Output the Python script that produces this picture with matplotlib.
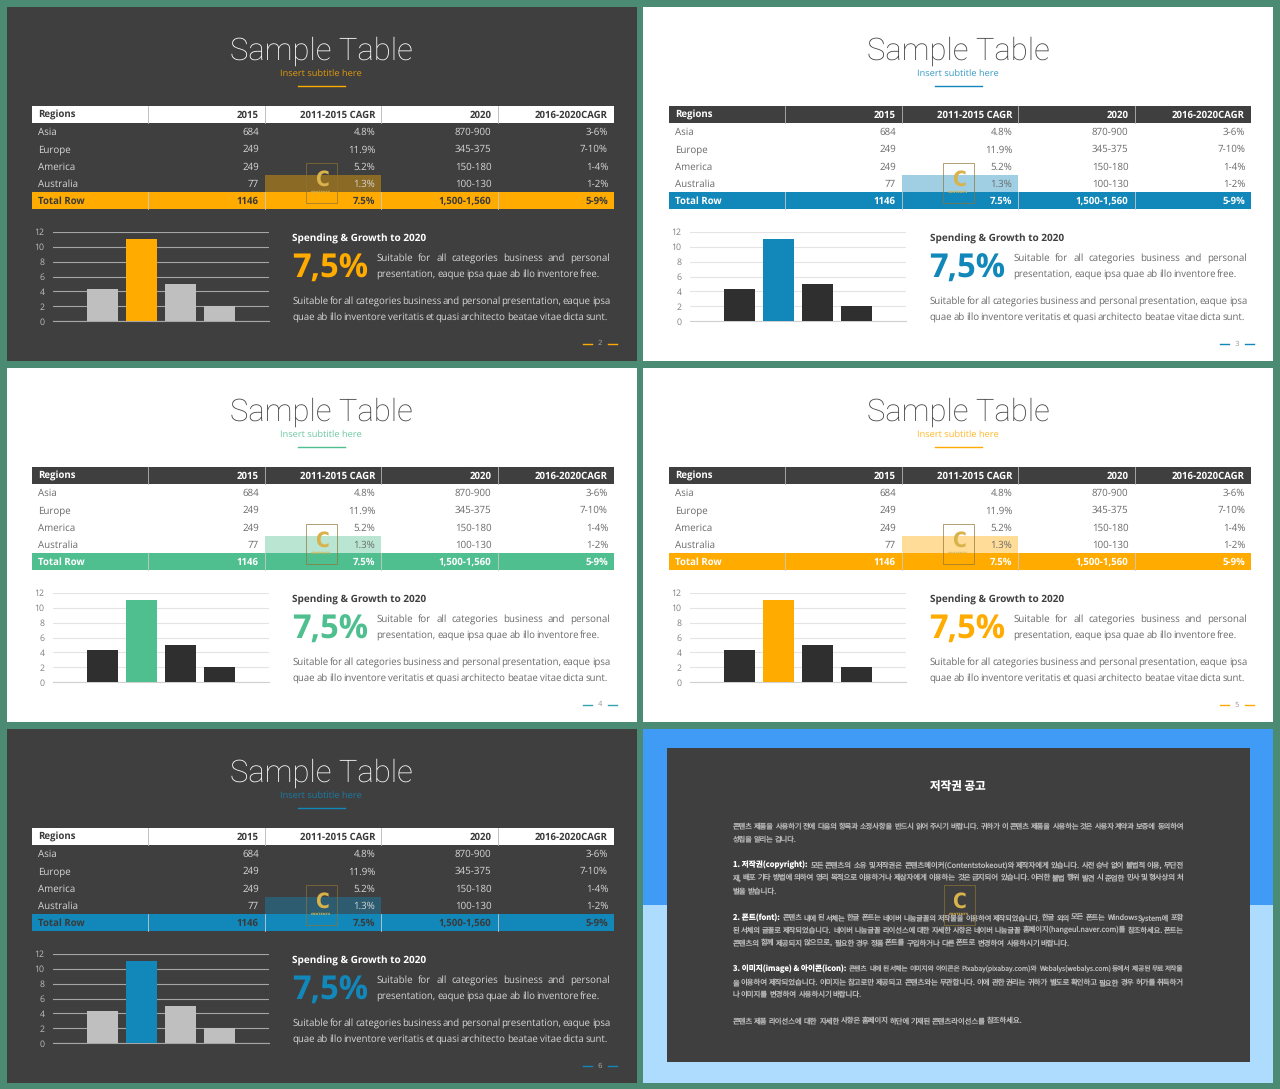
import matplotlib
matplotlib.use("Agg")
import matplotlib.pyplot as plt
from matplotlib.patches import Rectangle

plt.rcParams["text.hinting"] = "no_hinting"

# table data
columns = ["Regions", "2015", "2011-2015 CAGR", "2020", "2016-2020CAGR"]
regions = ["Asia", "Europe", "America", "Australia"]
vals_2015 = ["684", "249", "249", "77"]
cagr_2015 = ["4.8%", "11.9%", "5.2%", "1.3%"]
vals_2020 = ["870-900", "345-375", "150-180", "100-130"]
cagr_2020 = ["3-6%", "7-10%", "1-4%", "1-2%"]
total_row = ["Total Row", "1146", "7.5%", "1,500-1,560", "5-9%"]

# bar chart data
bar_x = [0, 1, 2, 3]
bar_values = [4.3, 11, 5, 2]
y_ticks = [0, 2, 4, 6, 8, 10, 12]

title = "Sample Table"
subtitle = "Insert subtitle here"
heading = "Spending & Growth to 2020"
big_number = "7,5%"
side_lines = ["Suitable for all categories business and personal",
              "presentation, eaque ipsa quae ab illo inventore free."]
para_lines = ["Suitable for all categories business and personal presentation, eaque ipsa",
              "quae ab illo inventore veritatis et quasi architecto beatae vitae dicta sunt."]

notice_title = "저작권 공고"
notice_lines = [
    ("", "콘텐츠 제품을 사용하기 전에 다음의 항목과 소정사항을 반드시 읽어 주시기 바랍니다. 귀하가 이 콘텐츠 제품을 사용하는 것은 사용자 계약과 보증에 동의하여", 826, 1184),
    ("", "성립을 알리는 겁니다.", 839, 797),
    ("1. 저작권(copyright):", "모든 콘텐츠의 소유 및 저작권은 콘텐츠메이커(Contentstokeout)와 제작자에게 있습니다. 사전 승낙 없이 불법적 이용, 무단전", 865, 1184),
    ("", "재, 배포 기타 방법에 의하여 영리 목적으로 이용하거나 제삼자에게 이용하는 것은 금지되어 있습니다. 이러한 불법 행위 발견 시 준엄한 민사 및 형사상의 처", 878, 1184),
    ("", "벌을 받습니다.", 891.5, 777),
    ("2. 폰트(font):", "콘텐츠 내에 된 서체는 한글 폰트는 네이버 나눔글꼴의 저작물을 이용하여 제작되었습니다. 한글 외의 모든 폰트는 Windows System에 포함", 917.5, 1184),
    ("", "된 서체의 글꼴로 제작되었습니다. 네이버 나눔글꼴 라이선스에 대한 자세한 사항은 네이버 나눔글꼴 홈페이지(hangeul.naver.com)를 참조하세요. 폰트는", 930, 1184),
    ("", "콘텐츠의 함께 제공되지 않으므로, 필요한 경우 정품 폰트를 구입하거나 다른 폰트로 변경하여 사용하시기 바랍니다.", 942.5, 1070),
    ("3. 이미지(image) & 아이콘(icon):", "콘텐츠 내에 된 서체는 이미지와 아이콘은 Pixabay(pixabay.com)와 Webalys(webalys.com) 등에서 제공된 무료 저작물", 969, 1184),
    ("", "을 이용하여 제작되었습니다. 이미지는 참고로만 제공되고 콘텐츠와는 무관합니다. 이에 관한 권리는 귀하가 별도로 확인하고 필요한 경우 허가를 취득하거", 982.5, 1184),
    ("", "나 이미지를 변경하여 사용하시기 바랍니다.", 995, 862),
    ("", "콘텐츠 제품 라이선스에 대한 자세한 사항은 홈페이지 하단에 기재된 콘텐츠라이선스를 참조하세요.", 1021, 1023),
]

FRAME = "#4b8b74"
DARK = "#3f3f3f"
AMBER = "#ffab00"
BLUE = "#1287b9"
GREEN = "#50bf90"
KR = ["Noto Sans CJK KR", "DejaVu Sans"]
W, H = 1280, 1089

# slide settings: slide x, slide y, content shift, dark or not, accent colour, page number, page dash colour
slides = [
    (7, 7, 0, True, AMBER, "2", AMBER),
    (643, 7, 1, False, BLUE, "3", BLUE),
    (7, 368, 0, False, GREEN, "4", "#35a3b0"),
    (643, 368, 1, False, AMBER, "5", AMBER),
    (7, 729, 0, True, BLUE, "6", BLUE),
]

fig = plt.figure(figsize=(W / 100, H / 100), dpi=100, facecolor=FRAME)
ax = fig.add_axes([0, 0, 1, 1], zorder=0)
ax.set_xlim(0, W)
ax.set_ylim(H, 0)
ax.axis("off")
renderer = fig.canvas.get_renderer()


def rect(x0, y0, x1, y1, color, alpha=1.0, z=1):
    ax.add_patch(Rectangle((x0, y0), x1 - x0, y1 - y0, facecolor=color, edgecolor="none", alpha=alpha, zorder=z))


def text_width(s, **kw):
    t = ax.text(0, 0, s, **kw)
    w = t.get_window_extent(renderer).width
    t.remove()
    return w


def justify(x0, x1, y, s, color, size, family="Open Sans", weight="normal"):
    # word by word so the line ends exactly at x1, y is the baseline
    words = s.split()
    kw = dict(fontsize=size, family=family, fontweight=weight)
    widths = [text_width(w, **kw) for w in words]
    if len(words) > 1:
        gap = (x1 - x0 - sum(widths)) / (len(words) - 1)
    else:
        gap = 0
    if gap < 1.2 and len(words) > 1:
        # too wide, shrink the type a little
        scale = (x1 - x0 - 1.2 * (len(words) - 1)) / sum(widths)
        kw["fontsize"] = size * scale
        widths = [w * scale for w in widths]
        gap = 1.2
    x = x0
    for w, wd in zip(words, widths):
        ax.text(x, y, w, color=color, va="baseline", ha="left", zorder=5, **kw)
        x += wd + gap


def draw_logo(cx, top):
    ax.add_patch(Rectangle((cx - 15.5, top), 31, 40, facecolor="none", edgecolor="#8f7434", lw=0.6, alpha=0.8, zorder=6))
    ax.text(cx, top + 17, "C", color="#d8b24a", fontsize=15, fontweight="bold",
            family="DejaVu Sans", stretch="condensed", ha="center", va="center", zorder=7)
    ax.text(cx, top + 29, "CONTENTS", color="#d8b24a", fontsize=2.4, fontweight="bold",
            ha="center", va="center", zorder=7)


def draw_slide(sx, sy, shift, dark, accent, page, page_color):
    ox, oy = sx + shift, sy
    bg = DARK if dark else "white"
    fg = "#d6d6d6" if dark else "#6a6a6a"
    rect(sx, sy, sx + 630, sy + 354, bg)

    ax.text(ox + 314, oy + 52.5, title, color="white" if dark else "#404040", fontsize=22.3,
            family="Roboto", fontweight="light", ha="center", va="baseline", zorder=5)
    ax.text(ox + 314, oy + 69, subtitle, color=accent, fontsize=6.7, family="Open Sans",
            ha="center", va="baseline", zorder=5, alpha=0.85)
    ax.plot([ox + 291, ox + 338], [oy + 78.5, oy + 78.5], color=accent, lw=1.0, zorder=5)

    # table
    left = ox + 25
    col_w = 116.4
    top = oy + 98.7
    row_h = 17.27
    head_bg = "white" if dark else DARK
    head_fg = "#3a3a3a" if dark else "white"
    total_fg = "#3a3a3a" if dark else "white"
    rect(left, top, left + 5 * col_w, top + row_h, head_bg)
    rect(left, top + 5 * row_h, left + 5 * col_w, top + 6 * row_h, accent)
    rect(left + 2 * col_w, top + 4 * row_h, left + 3 * col_w, top + 5 * row_h, accent, alpha=0.4, z=2)
    for c in range(1, 5):
        xc = left + c * col_w
        ax.plot([xc, xc], [top, top + row_h], color="#b5b5b5", lw=0.6, zorder=3)
        ax.plot([xc, xc], [top + 5 * row_h, top + 6 * row_h], color="#c9c9c9", lw=0.6, zorder=3)

    rows = [columns] + [list(r) for r in zip(regions, vals_2015, cagr_2015, vals_2020, cagr_2020)] + [total_row]
    for r, row in enumerate(rows):
        yb = top + (r + 0.5) * row_h + 3.5
        if r == 0:
            color, weight = head_fg, "bold"
        elif r == 5:
            color, weight = total_fg, "bold"
        else:
            color, weight = fg, "normal"
        for c, s in enumerate(row):
            if c == 0:
                xt, ha = left + 6, "left"
            else:
                xt, ha = left + (c + 1) * col_w - 6, "right"
            ax.text(xt, yb, s, color=color, fontsize=7.0 if r not in (0, 5) else 6.9, fontweight=weight,
                    family="Open Sans", ha=ha, va="baseline", zorder=5)

    draw_logo(ox + 314.5, oy + 156)

    # bar chart, real axes placed on the slide
    x0, x1, y12, y0 = ox + 46, ox + 262, oy + 225, oy + 314
    cax = fig.add_axes([x0 / W, 1 - y0 / H, (x1 - x0) / W, (y0 - y12) / H], zorder=2)
    cax.patch.set_alpha(0)
    cax.set_xlim(-1.258, 4.25)
    cax.set_ylim(0, 12)
    bar_grey = "#bfbfbf" if dark else "#2f2f2f"
    colors = [accent if v == max(bar_values) else bar_grey for v in bar_values]
    cax.bar(bar_x, bar_values, width=0.79, color=colors, zorder=3)
    cax.set_yticks(y_ticks)
    cax.set_xticks([])
    grid_color = "#a6a6a6" if dark else "#e4e4e4"
    cax.grid(axis="y", color=grid_color, lw=0.8, zorder=1)
    for side in ["top", "right", "left"]:
        cax.spines[side].set_visible(False)
    cax.spines["bottom"].set_color("#a6a6a6" if dark else "#d0d0d0")
    cax.spines["bottom"].set_linewidth(0.8)
    cax.tick_params(axis="y", length=0, pad=6, labelsize=6.3, labelcolor="#bdbdbd" if dark else "#7f7f7f")
    for lab in cax.get_yticklabels():
        lab.set_family("Open Sans")

    # text block
    ax.text(ox + 285.5, oy + 234.3, heading, color="white" if dark else "#404040", fontsize=7.2,
            fontweight="bold", family="Open Sans", ha="left", va="baseline", zorder=5)
    ax.text(ox + 285, oy + 270.5, big_number, color=accent, fontsize=23.5, fontweight="bold",
            family="Open Sans", ha="left", va="baseline", zorder=5)
    justify(ox + 369.5, ox + 603, oy + 253.5, side_lines[0], fg, 7.0)
    justify(ox + 369.5, ox + 593.5, oy + 269.7, side_lines[1], fg, 7.0)
    justify(ox + 285.5, ox + 603, oy + 296.8, para_lines[0], fg, 7.0)
    justify(ox + 285.5, ox + 601, oy + 313, para_lines[1], fg, 7.0)

    # page number
    ax.text(ox + 593, oy + 336.5, page, color="#a0a0a0", fontsize=5.2, ha="center", va="center", zorder=5)
    ax.plot([ox + 576, ox + 585], [oy + 336.5] * 2, color=page_color, lw=1.0, zorder=5)
    ax.plot([ox + 601, ox + 610], [oy + 336.5] * 2, color=page_color, lw=1.0, zorder=5)


for s in slides:
    draw_slide(*s)

# notice slide
rect(643, 729, 1273, 905, "#3f9bf6")
rect(643, 905, 1273, 1083, "#aedcff")
rect(667, 748, 1250, 1062, DARK)
ax.text(958, 786.5, notice_title, color="white", fontsize=8.3, fontweight="bold", family=KR,
        ha="center", va="center", zorder=5)
for bold, rest, y, xend in notice_lines:
    start = 733
    if bold:
        bold_w = text_width(bold, fontsize=5.5, fontweight="bold", family=KR)
        ax.text(start, y + 2.5, bold, color="white", fontsize=5.5, fontweight="bold", family=KR,
                ha="left", va="baseline", zorder=5)
        start += bold_w + 3
    justify(start, xend, y + 2.5, rest, "#bdbdbd", 5.6, family=KR)
draw_logo(959, 885)

fig.savefig("out.png", dpi=100, facecolor=FRAME)
